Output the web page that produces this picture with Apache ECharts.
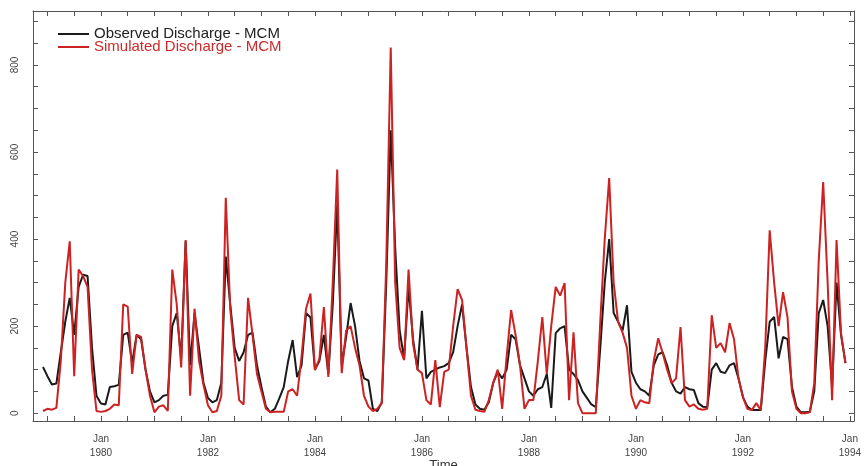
<!DOCTYPE html>
<html>
<head>
<meta charset="utf-8">
<script src="https://cdn.jsdelivr.net/npm/echarts@6/dist/echarts.min.js"></script>
<style>
  html, body { margin: 0; padding: 0; background: #fff; }
  #chart { width: 867px; height: 466px; }
</style>
</head>
<body>
<div id="chart"></div>
<script>
// Monthly discharge, December 1978 to December 1993 (MCM)
const startYear = 1978;
const startMonth = 12; // December

const observed = [
  106, 85, 66, 68, 140, 210, 265, 180, 290, 318,
  315, 150, 40, 22, 20, 60, 62, 65, 180, 185,
  115, 180, 170, 100, 50, 25, 30, 40, 42, 200,
  230, 125, 395, 110, 230, 150, 70, 35, 25, 30,
  70, 360, 250, 150, 120, 140, 180, 185, 110, 60,
  15, 2, 10, 34, 60, 120, 168, 83, 110, 230,
  220, 100, 120, 180, 90, 250, 480, 110, 175, 253,
  200, 120, 80, 75, 10, 5, 25, 300, 650, 380,
  190, 125, 290, 170, 100, 235, 80, 95, 100, 105,
  108, 115, 140, 200, 250, 150, 60, 20, 10, 8,
  25, 70, 95, 80, 100, 180, 170, 110, 80, 50,
  40, 55, 60, 90, 12, 184, 195, 200, 100, 90,
  76, 50, 35, 20, 14, 150, 300, 400, 230, 210,
  190, 248, 95, 70, 55, 50, 40, 110, 135, 140,
  110, 70, 50, 45, 60, 55, 53, 23, 15, 14,
  100, 115, 95, 92, 110, 115, 80, 37, 15, 7,
  7, 7, 120, 210, 221, 126, 175, 170, 60, 15,
  2, 2, 3, 50, 230, 260, 200, 60, 300, 180,
  115
];

const simulated = [
  5, 10, 8, 12, 120, 300, 395, 85, 330, 315,
  290, 100, 5, 3, 5, 10, 20, 18, 250, 245,
  90, 180, 175, 100, 40, 2, 15, 18, 5, 330,
  250, 105, 398, 40, 240, 120, 65, 18, 2, 5,
  40, 495, 240, 130, 30, 20, 265, 180, 90, 50,
  10, 2, 3, 3, 3, 50, 55, 40, 130, 240,
  275, 99, 125, 244, 83, 300, 560, 92, 190, 200,
  150, 110, 40, 15, 5, 10, 23, 345, 840, 300,
  150, 122, 330, 160, 100, 92, 30, 20, 122, 14,
  95, 100, 200, 285, 260, 150, 40, 8, 5, 3,
  30, 70, 100, 10, 130, 237, 180, 110, 10, 30,
  30, 120, 221, 90, 200, 290, 270, 299, 30, 186,
  23, 0, 0, 0, 0, 210, 400, 540, 300, 210,
  185, 150, 40, 10, 30, 25, 23, 120, 172, 138,
  100, 69, 80, 198, 30, 15, 20, 10, 8, 10,
  225, 150, 161, 140, 207, 170, 80, 37, 10, 7,
  23, 7, 150, 420, 300, 200, 278, 220, 50, 10,
  0, 0, 2, 69, 350, 531, 300, 30, 398, 184,
  115
];

// Axis ticks and labels
const xLabelYears = [1980, 1982, 1984, 1986, 1988, 1990, 1992, 1994];
const xTickYears = [];
for (let y = 1979; y <= 1994; y += 0.5) xTickYears.push(y);
const yLabels = [0, 200, 400, 600, 800];
const yTicks = [];
for (let v = 0; v <= 900; v += 50) yTicks.push(v);

// Decimal-year position of each monthly sample
function monthPos(i) {
  return startYear + (startMonth - 1) / 12 + i / 12;
}
const obsData = observed.map((v, i) => [monthPos(i), v]);
const simData = simulated.map((v, i) => [monthPos(i), v]);

const FONT = '"Liberation Sans", Arial, Helvetica, sans-serif';
const AXIS_COLOR = '#555';
const X_MIN = 1978.73, X_MAX = 1994.076;
const Y_MIN = -18, Y_MAX = 924;

const chart = echarts.init(document.getElementById('chart'), null, { renderer: 'canvas' });

const frameX = (pos, show) => ({
  type: 'value', position: pos, min: X_MIN, max: X_MAX,
  axisLine: { show: true, onZero: false, lineStyle: { color: AXIS_COLOR, width: 1 } },
  axisTick: { show: true, inside: true, length: 5, customValues: xTickYears,
              lineStyle: { color: AXIS_COLOR } },
  axisLabel: show ? {
    show: true, customValues: xLabelYears, margin: 11,
    fontFamily: FONT, fontSize: 10, color: '#444', lineHeight: 14,
    formatter: v => 'Jan\n' + Math.round(v)
  } : { show: false },
  splitLine: { show: false },
  name: show ? 'Time' : '', nameLocation: 'middle', nameGap: 38,
  nameMoveOverlap: false,
  nameTextStyle: { fontFamily: FONT, fontSize: 13, color: '#333', verticalAlign: 'top' }
});

const frameY = (pos, show) => ({
  type: 'value', position: pos, min: Y_MIN, max: Y_MAX,
  axisLine: { show: true, onZero: false, lineStyle: { color: AXIS_COLOR, width: 1 } },
  axisTick: { show: true, inside: true, length: 5, customValues: yTicks,
              lineStyle: { color: AXIS_COLOR } },
  axisLabel: show ? {
    show: true, customValues: yLabels, rotate: 90, margin: 13,
    fontFamily: FONT, fontSize: 10, color: '#444'
  } : { show: false },
  splitLine: { show: false }
});

chart.setOption({
  animation: false,
  backgroundColor: '#fff',
  grid: { left: 33, right: 13, top: 11, bottom: 45, containLabel: false, outerBoundsMode: 'none' },
  xAxis: [frameX('bottom', true), frameX('top', false)],
  yAxis: [frameY('left', true), frameY('right', false)],
  legend: [
    {
      left: 53, top: 21, itemWidth: 31, itemHeight: 2, itemGap: 0,
      icon: 'rect',
      data: [{ name: 'Observed Discharge - MCM', textStyle: { color: '#222' } }],
      textStyle: { fontFamily: FONT, fontSize: 15, lineHeight: 16, padding: [0, 0, 0, 0] }
    },
    {
      left: 53, top: 34, itemWidth: 31, itemHeight: 2, itemGap: 0,
      icon: 'rect',
      data: [{ name: 'Simulated Discharge - MCM', textStyle: { color: '#cc2a2a' } }],
      textStyle: { fontFamily: FONT, fontSize: 15, lineHeight: 16, padding: [0, 0, 0, 0] }
    }
  ],
  series: [
    {
      name: 'Observed Discharge - MCM', type: 'line', data: obsData,
      showSymbol: false, symbol: 'none',
      lineStyle: { color: '#1a1a1a', width: 2 },
      itemStyle: { color: '#1a1a1a' }
    },
    {
      name: 'Simulated Discharge - MCM', type: 'line', data: simData,
      showSymbol: false, symbol: 'none',
      lineStyle: { color: '#cc2222', width: 2 },
      itemStyle: { color: '#cc2222' }
    }
  ]
});
</script>
</body>
</html>
